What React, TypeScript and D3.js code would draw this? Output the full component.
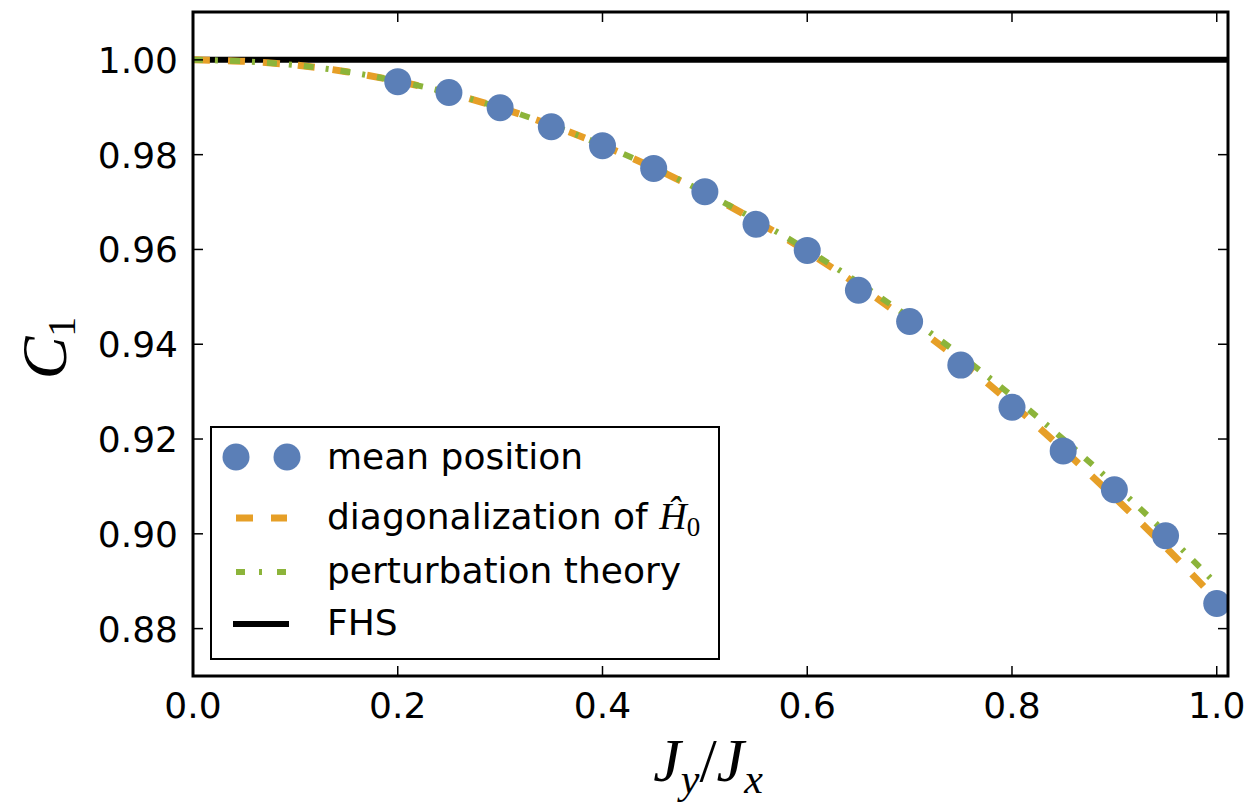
import React from "react";
import * as d3 from "d3";

const pointX = [0.2, 0.25, 0.3, 0.35, 0.4, 0.45, 0.5, 0.55, 0.6, 0.65, 0.7, 0.75, 0.8, 0.85, 0.9, 0.95, 1.0];
const meanPosition = [0.9954, 0.9931, 0.9899, 0.9859, 0.9819, 0.9771, 0.9722, 0.9653, 0.9598, 0.9514, 0.9448, 0.9356, 0.9267, 0.9175, 0.9093, 0.8996, 0.8853];

const curveX = [0, 0.05, 0.1, 0.15, 0.2, 0.25, 0.3, 0.35, 0.4, 0.45, 0.5, 0.55, 0.6, 0.65, 0.7, 0.75, 0.8, 0.85, 0.9, 0.95, 1.0];
const diagonalization = [1.0, 0.9997, 0.9989, 0.9975, 0.9955, 0.993, 0.9899, 0.9862, 0.982, 0.9772, 0.9719, 0.966, 0.9595, 0.9524, 0.9447, 0.9364, 0.9274, 0.9178, 0.9077, 0.8972, 0.886];
const perturbation = [1.0, 0.9997, 0.9989, 0.9975, 0.9955, 0.993, 0.9899, 0.9862, 0.982, 0.9773, 0.972, 0.9662, 0.9599, 0.953, 0.9456, 0.9376, 0.9291, 0.92, 0.9104, 0.9002, 0.8893];
const fhsX = [0, 1.011];
const fhs = [1.0, 1.0];

const xTicks = [0, 0.2, 0.4, 0.6, 0.8, 1.0];
const yTicks = [0.88, 0.9, 0.92, 0.94, 0.96, 0.98, 1.0];

const BLUE = "#5b7fb7";
const ORANGE = "#e69f27";
const GREEN = "#8cb43a";

export default function App() {
  const W = 1250, H = 803;
  const L = 193, R = 1228, T = 12, B = 676;
  const x = d3.scaleLinear().domain([0, 1.011]).range([L, R]);
  const y = d3.scaleLinear().domain([0.87, 1.0101]).range([B, T]);
  const line = d3.line<[number, number]>().x(d => x(d[0])).y(d => y(d[1])).curve(d3.curveCatmullRom);
  const diag = line(curveX.map((v, i) => [v, diagonalization[i]]) as [number, number][]) || "";
  const pert = line(curveX.map((v, i) => [v, perturbation[i]]) as [number, number][]) || "";
  const fhsPath = d3.line<[number, number]>().x(d => x(d[0])).y(d => y(d[1]))(fhsX.map((v, i) => [v, fhs[i]]) as [number, number][]) || "";
  const font = "'DejaVu Sans', sans-serif";
  const serif = "'Liberation Serif', serif";
  const tickLen = 10;

  // legend
  const lgX = 211, lgY = 427, lgW = 508, lgH = 232;
  const hx0 = 236, hx1 = 287;
  const textX = 327;
  const rows = [457, 518, 572, 624];

  return (
    <svg width={W} height={H} style={{ position: "absolute", left: 0, top: 0, background: "#fff" }}>
      <defs>
        <clipPath id="plot">
          <rect x={L} y={T} width={R - L} height={B - T} />
        </clipPath>
      </defs>
      <rect x={0} y={0} width={W} height={H} fill="#fff" />
      <g clipPath="url(#plot)">
        <path d={fhsPath} stroke="#000" strokeWidth={6} fill="none" />
        <path d={diag} stroke={ORANGE} strokeWidth={7} fill="none" strokeDasharray="17,18" />
        <path d={pert} stroke={GREEN} strokeWidth={6} fill="none" strokeDasharray="10,12,3,12" />
        {pointX.map((v, i) => (
          <circle key={i} cx={x(v)} cy={y(meanPosition[i])} r={13.5} fill={BLUE} />
        ))}
      </g>
      {/* ticks */}
      {xTicks.map(t => (
        <g key={"x" + t}>
          <line x1={x(t)} x2={x(t)} y1={B} y2={B - tickLen} stroke="#000" strokeWidth={1.5} />
          <line x1={x(t)} x2={x(t)} y1={T} y2={T + tickLen} stroke="#000" strokeWidth={1.5} />
          <text x={x(t)} y={718} textAnchor="middle" fontFamily={font} fontSize={36}>{t.toFixed(1)}</text>
        </g>
      ))}
      {yTicks.map(t => (
        <g key={"y" + t}>
          <line x1={L} x2={L + tickLen} y1={y(t)} y2={y(t)} stroke="#000" strokeWidth={1.5} />
          <line x1={R} x2={R - tickLen} y1={y(t)} y2={y(t)} stroke="#000" strokeWidth={1.5} />
          <text x={178} y={y(t) + 13} textAnchor="end" fontFamily={font} fontSize={36}>{t.toFixed(2)}</text>
        </g>
      ))}
      <rect x={L} y={T} width={R - L} height={B - T} fill="none" stroke="#000" strokeWidth={3} />

      {/* axis labels */}
      <text x={708} y={781} textAnchor="middle" fontFamily={serif} fontStyle="italic" fontSize={62}>
        J<tspan fontSize={42} dy={12}>y</tspan><tspan dy={-12} fontStyle="normal">/</tspan>J<tspan fontSize={42} dy={12}>x</tspan>
      </text>
      <text transform={`translate(66,348) rotate(-90)`} textAnchor="middle" fontFamily={serif} fontStyle="italic" fontSize={64}>
        C<tspan fontSize={40} dy={9} fontStyle="normal">1</tspan>
      </text>

      {/* legend */}
      <rect x={lgX} y={lgY} width={lgW} height={lgH} fill="#fff" stroke="#000" strokeWidth={2} />
      <circle cx={hx0} cy={rows[0]} r={13.5} fill={BLUE} />
      <circle cx={hx1} cy={rows[0]} r={13.5} fill={BLUE} />
      <line x1={hx0} x2={hx1} y1={rows[1]} y2={rows[1]} stroke={ORANGE} strokeWidth={7} strokeDasharray="17,18" />
      <line x1={hx0} x2={hx1} y1={rows[2]} y2={rows[2]} stroke={GREEN} strokeWidth={6} strokeDasharray="9,14,3,15" />
      <line x1={233} x2={289} y1={rows[3]} y2={rows[3]} stroke="#000" strokeWidth={6} />
      <text x={textX} y={469} fontFamily={font} fontSize={36}>mean position</text>
      <text x={textX} y={529} fontFamily={font} fontSize={36}>
        diagonalization of <tspan fontFamily={serif} fontStyle="italic" fontSize={38}>Ĥ</tspan><tspan fontFamily={serif} fontSize={27} dy={7}>0</tspan>
      </text>
      <text x={textX} y={583} fontFamily={font} fontSize={36}>perturbation theory</text>
      <text x={textX} y={635} fontFamily={font} fontSize={36}>FHS</text>
    </svg>
  );
}
